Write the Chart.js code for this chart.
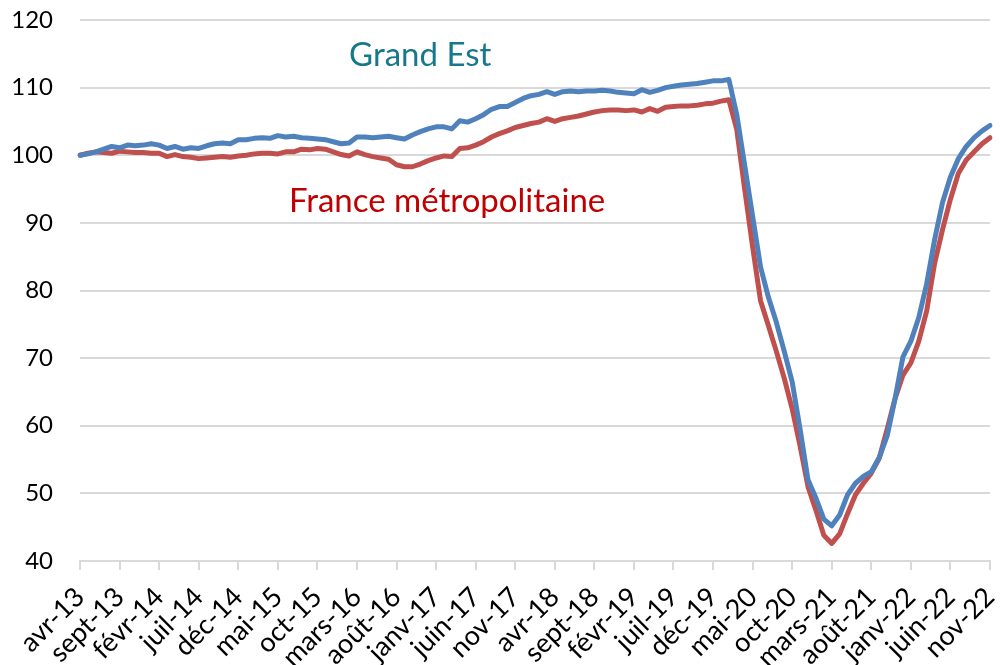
<!DOCTYPE html>
<html>
<head>
<meta charset="utf-8">
<script src="https://cdn.jsdelivr.net/npm/chart.js@4.4.0/dist/chart.umd.min.js"></script>
<style>
  html, body { margin: 0; padding: 0; background: #fff; }
  #wrap { width: 1000px; height: 665px; }
</style>
</head>
<body>
<div id="wrap"><canvas id="chart"></canvas></div>
<script>
var monthNames = ['janv', 'févr', 'mars', 'avr', 'mai', 'juin', 'juil', 'août', 'sept', 'oct', 'nov', 'déc'];
var startYear = 2013, startMonth = 3, monthCount = 116;

var grandEst = [
  100.0, 100.2, 100.5, 100.9, 101.3, 101.1, 101.5, 101.4, 101.5, 101.7,
  101.5, 101.0, 101.3, 100.9, 101.1, 101.0, 101.4, 101.7, 101.8, 101.7,
  102.3, 102.3, 102.5, 102.6, 102.5, 102.9, 102.7, 102.8, 102.6, 102.5,
  102.4, 102.3, 102.0, 101.7, 101.8, 102.7, 102.7, 102.6, 102.7, 102.8,
  102.6, 102.4, 103.0, 103.5, 103.9, 104.2, 104.2, 103.9, 105.1, 104.9,
  105.4, 106.0, 106.8, 107.2, 107.2, 107.8, 108.4, 108.8, 109.0, 109.4,
  109.0, 109.4, 109.5, 109.4, 109.5, 109.5, 109.6, 109.5, 109.3, 109.2,
  109.1, 109.7, 109.3, 109.6, 110.0, 110.2, 110.4, 110.5, 110.6, 110.8,
  111.0, 111.0, 111.2, 106.0, 98.5, 91.0, 83.5, 79.0, 75.3, 71.0,
  66.5, 59.5, 52.0, 49.3, 46.2, 45.2, 46.8, 49.8, 51.5, 52.5,
  53.2, 55.3, 58.5, 64.0, 70.2, 72.5, 76.0, 81.0, 87.5, 93.0,
  96.8, 99.5, 101.3, 102.6, 103.6, 104.4
];

var franceMetro = [
  100.0, 100.3, 100.5, 100.4, 100.3, 100.6, 100.5, 100.4, 100.4, 100.3,
  100.3, 99.8, 100.1, 99.8, 99.7, 99.5, 99.6, 99.7, 99.8, 99.7,
  99.9, 100.0, 100.2, 100.3, 100.3, 100.2, 100.5, 100.5, 100.9, 100.8,
  101.0, 100.9, 100.5, 100.1, 99.9, 100.5, 100.1, 99.8, 99.6, 99.4,
  98.6, 98.3, 98.3, 98.7, 99.2, 99.6, 99.9, 99.8, 101.0, 101.1,
  101.5, 102.0, 102.7, 103.2, 103.6, 104.1, 104.4, 104.7, 104.9, 105.4,
  105.0, 105.4, 105.6, 105.8, 106.1, 106.4, 106.6, 106.7, 106.7, 106.6,
  106.7, 106.4, 106.9, 106.5, 107.1, 107.2, 107.3, 107.3, 107.4, 107.6,
  107.7, 108.0, 108.2, 103.8, 95.0, 86.5, 78.5, 74.8, 71.0, 67.0,
  62.5, 57.0, 51.0, 47.5, 43.8, 42.6, 44.0, 47.0, 49.8, 51.5,
  53.0, 55.2, 59.5, 64.0, 67.5, 69.3, 72.5, 77.0, 84.0, 89.0,
  93.5, 97.3, 99.3, 100.5, 101.7, 102.6
];

var labelStep = 5;
var yMin = 40, yMax = 120, yStep = 10;

// libellés posés sur le graphique (index de mois, valeur)
var notes = [
  { text: 'Grand Est', index: 34, value: 114.7, color: '#17788c' },
  { text: 'France métropolitaine', index: 26.4, value: 93.2, color: '#c00000' }
];

var labels = [];
for (var i = 0; i < monthCount; i++) {
    var m = (startMonth + i) % 12;
    var y = startYear + Math.floor((startMonth + i) / 12);
    labels.push(monthNames[m] + '-' + String(y).slice(2));
}

var notesPlugin = {
    id: 'notes',
    afterDatasetsDraw: function (chart) {
        var ctx = chart.ctx;
        var xs = chart.scales.x, ys = chart.scales.y;
        ctx.save();
        ctx.font = '33px Lato';
        ctx.textAlign = 'left';
        ctx.textBaseline = 'middle';
        notes.forEach(function (n) {
            ctx.fillStyle = n.color;
            ctx.fillText(n.text, xs.getPixelForValue(n.index), ys.getPixelForValue(n.value));
        });
        ctx.restore();
    }
};

var ctx = document.getElementById('chart').getContext('2d');
var chart = new Chart(ctx, {
    type: 'line',
    data: {
        labels: labels,
        datasets: [{
            label: 'Grand Est',
            data: grandEst,
            borderColor: '#4f81bd',
            borderWidth: 5,
            pointRadius: 0,
            tension: 0,
            borderJoinStyle: 'round',
            borderCapStyle: 'round'
        }, {
            label: 'France métropolitaine',
            data: franceMetro,
            borderColor: '#c0504d',
            borderWidth: 5,
            pointRadius: 0,
            tension: 0,
            borderJoinStyle: 'round',
            borderCapStyle: 'round'
        }]
    },
    options: {
        responsive: true,
        maintainAspectRatio: false,
        animation: false,
        layout: { padding: { top: 20, right: 10, left: 0, bottom: 0 } },
        plugins: {
            legend: { display: false },
            tooltip: { enabled: false }
        },
        scales: {
            x: {
                offset: false,
                grid: {
                    drawOnChartArea: false,
                    tickLength: 9,
                    lineWidth: 2,
                    color: function (c) {
                        return c.index % labelStep === 0 ? '#d9d9d9' : 'rgba(0,0,0,0)';
                    }
                },
                border: { color: '#d9d9d9', width: 2 },
                ticks: {
                    autoSkip: false,
                    minRotation: 45,
                    maxRotation: 45,
                    padding: 11,
                    color: '#000',
                    font: { family: 'Lato', size: 27 },
                    callback: function (v, i) {
                        return i % labelStep === 0 ? labels[i] : '';
                    }
                },
                afterFit: function (s) {
                    s.height = 104;
                    s.paddingLeft = 0;
                    s.paddingRight = 0;
                    s.paddingTop = 0;
                    s.paddingBottom = 0;
                }
            },
            y: {
                min: yMin,
                max: yMax,
                grid: { color: '#d9d9d9', lineWidth: 2, drawTicks: false },
                border: { display: false },
                ticks: {
                    stepSize: yStep,
                    padding: 27,
                    color: '#000',
                    font: { family: 'Lato', size: 24 }
                },
                afterFit: function (s) {
                    s.width = 80;
                    s.paddingTop = 0;
                    s.paddingBottom = 0;
                }
            }
        }
    },
    plugins: [notesPlugin]
});
</script>
</body>
</html>
